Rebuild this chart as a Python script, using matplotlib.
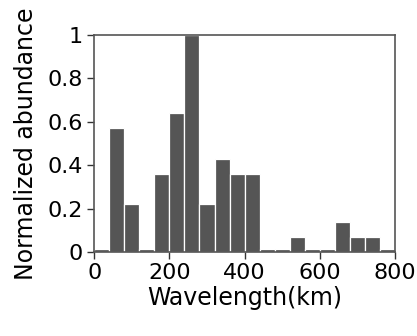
import matplotlib
matplotlib.use("Agg")
import matplotlib.pyplot as plt
import numpy as np

# histogram bins (km) and normalized abundance per bin
bin_left = [0, 40, 80, 120, 160, 200, 240, 280, 320, 360,
            400, 440, 480, 520, 560, 600, 640, 680, 720, 760]
abundance = [0.0, 0.57, 0.22, 0.0, 0.36, 0.64, 1.0, 0.22, 0.43, 0.36,
             0.36, 0.0, 0.0, 0.07, 0.0, 0.0, 0.14, 0.07, 0.07, 0.0]
x_ticks = [0, 200, 400, 600, 800]
y_ticks = [0, 0.2, 0.4, 0.6, 0.8, 1]
y_tick_labels = ["0", "0.2", "0.4", "0.6", "0.8", "1"]

fig = plt.figure(figsize=(4.17, 3.36), dpi=100)
ax = fig.add_axes([0.226, 0.25, 0.721, 0.646])

# zero bins are drawn as a thin stub
heights = np.maximum(np.array(abundance), 0.014)
ax.bar(bin_left, heights, width=40, align="edge", color="#555555",
       edgecolor="white", linewidth=0.9)

ax.set_xlim(0, 800)
ax.set_ylim(0, 1)
ax.set_xticks(x_ticks)
ax.set_yticks(y_ticks)
ax.set_yticklabels(y_tick_labels)
ax.tick_params(axis="both", direction="out", length=5, width=1,
               labelsize=16, pad=3, color="#333333")
for s in ax.spines.values():
    s.set_color("#555555")
    s.set_linewidth(1.2)

ax.set_xlabel("Wavelength(km)", fontsize=17, labelpad=2)
ax.set_ylabel("Normalized abundance", fontsize=17, labelpad=7)

fig.savefig("out.png", dpi=100)
